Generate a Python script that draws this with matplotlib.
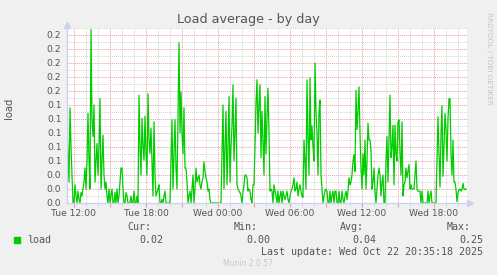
import matplotlib
matplotlib.use("Agg")
import matplotlib.pyplot as plt
import matplotlib.dates as mdates
import matplotlib.ticker as mticker
import pandas as pd

# 5-minute load samples, Tue 11:25 -> Wed 20:40 (one row = 100 minutes)
LOAD = [
    0.110, 0.070, 0.030, 0.136, 0.080, 0.040, 0.000, 0.000, 0.026, 0.010, 0.000, 0.017, 0.005, 0.000, 0.015, 0.010, 0.020, 0.030, 0.050, 0.020,
    0.060, 0.128, 0.060, 0.020, 0.248, 0.120, 0.095, 0.140, 0.030, 0.060, 0.085, 0.040, 0.080, 0.149, 0.020, 0.060, 0.097, 0.040, 0.020, 0.030,
    0.010, 0.000, 0.020, 0.000, 0.010, 0.020, 0.000, 0.000, 0.015, 0.000, 0.020, 0.000, 0.010, 0.030, 0.050, 0.050, 0.020, 0.000, 0.000, 0.015,
    0.010, 0.000, 0.000, 0.000, 0.010, 0.000, 0.000, 0.017, 0.000, 0.000, 0.010, 0.000, 0.154, 0.080, 0.040, 0.121, 0.080, 0.061, 0.124, 0.070,
    0.040, 0.156, 0.090, 0.071, 0.107, 0.060, 0.010, 0.116, 0.040, 0.010, 0.015, 0.020, 0.026, 0.000, 0.000, 0.005, 0.000, 0.010, 0.017, 0.000,
    0.000, 0.000, 0.000, 0.000, 0.060, 0.119, 0.020, 0.070, 0.119, 0.050, 0.020, 0.120, 0.229, 0.100, 0.159, 0.100, 0.070, 0.136, 0.050, 0.050,
    0.030, 0.000, 0.010, 0.017, 0.000, 0.020, 0.040, 0.000, 0.020, 0.050, 0.030, 0.035, 0.040, 0.026, 0.020, 0.030, 0.036, 0.059, 0.045, 0.036,
    0.030, 0.017, 0.020, 0.005, 0.000, 0.000, 0.000, 0.000, 0.000, 0.000, 0.000, 0.000, 0.000, 0.000, 0.000, 0.070, 0.140, 0.020, 0.080, 0.131,
    0.026, 0.080, 0.152, 0.030, 0.080, 0.110, 0.169, 0.060, 0.100, 0.150, 0.026, 0.020, 0.017, 0.015, 0.010, 0.000, 0.015, 0.026, 0.040, 0.040,
    0.036, 0.017, 0.020, 0.017, 0.005, 0.000, 0.026, 0.026, 0.080, 0.143, 0.176, 0.100, 0.140, 0.169, 0.065, 0.131, 0.090, 0.040, 0.152, 0.070,
    0.120, 0.164, 0.100, 0.017, 0.020, 0.017, 0.000, 0.026, 0.017, 0.010, 0.000, 0.017, 0.000, 0.010, 0.017, 0.000, 0.017, 0.010, 0.005, 0.010,
    0.017, 0.005, 0.000, 0.010, 0.017, 0.020, 0.026, 0.036, 0.017, 0.020, 0.030, 0.010, 0.020, 0.026, 0.017, 0.010, 0.008, 0.090, 0.060, 0.020,
    0.176, 0.090, 0.040, 0.179, 0.090, 0.110, 0.080, 0.060, 0.200, 0.130, 0.100, 0.040, 0.130, 0.147, 0.040, 0.020, 0.000, 0.010, 0.017, 0.020,
    0.017, 0.000, 0.000, 0.017, 0.000, 0.010, 0.017, 0.000, 0.017, 0.017, 0.000, 0.000, 0.017, 0.000, 0.000, 0.017, 0.005, 0.000, 0.010, 0.017,
    0.005, 0.017, 0.036, 0.026, 0.030, 0.040, 0.060, 0.069, 0.045, 0.161, 0.105, 0.130, 0.166, 0.100, 0.050, 0.020, 0.070, 0.040, 0.090, 0.020,
    0.060, 0.114, 0.090, 0.090, 0.075, 0.020, 0.030, 0.050, 0.017, 0.000, 0.020, 0.040, 0.050, 0.040, 0.010, 0.030, 0.040, 0.000, 0.000, 0.060,
    0.095, 0.030, 0.090, 0.154, 0.065, 0.080, 0.111, 0.026, 0.111, 0.070, 0.060, 0.116, 0.119, 0.070, 0.040, 0.116, 0.010, 0.026, 0.030, 0.050,
    0.036, 0.045, 0.055, 0.020, 0.026, 0.020, 0.020, 0.020, 0.040, 0.060, 0.020, 0.017, 0.017, 0.017, 0.000, 0.017, 0.000, 0.000, 0.000, 0.000,
    0.000, 0.017, 0.000, 0.010, 0.017, 0.000, 0.000, 0.000, 0.000, 0.000, 0.060, 0.123, 0.070, 0.023, 0.100, 0.139, 0.038, 0.080, 0.128, 0.104,
    0.060, 0.120, 0.149, 0.149, 0.070, 0.040, 0.090, 0.030, 0.030, 0.019, 0.002, 0.015, 0.019, 0.020, 0.017, 0.019, 0.028, 0.020, 0.019, 0.020,
]
START = "2025-10-21 11:25"
Y_TICKS = [i * 0.02 for i in range(13)]
STAT_NAMES = ["Cur:", "Min:", "Avg:", "Max:"]
STAT_VALUES = ["0.02", "0.00", "0.04", "0.25"]
LAST_UPDATE = "Last update: Wed Oct 22 20:35:18 2025"

W, H = 497, 275
BG = "#F0F0F0"
FONT_C = "#555555"
AXIS_C = "#C8D0F4"
MGRID = "#E8A0A0"
GRID = "#D4D4D4"
MONO = "DejaVu Sans Mono"


def fx(x):
    return x / W


def fy(y):
    return 1 - y / H


def main() -> None:
    times = pd.date_range(START, periods=len(LOAD), freq="5min")
    t_end = times[0] + pd.Timedelta(minutes=5 * len(LOAD))

    fig = plt.figure(figsize=(W / 100, H / 100), dpi=100, facecolor=BG)
    ax = fig.add_axes([fx(67), 1 - 203 / H, 400 / W, 175 / H])
    ax.set_facecolor("white")

    ax.plot(times, LOAD, color="#00CC00", lw=0.9)
    ax.set_xlim(times[0], t_end)
    ax.set_ylim(0, 0.25)

    # time axis: red grid every 3h, labels every 6h, grey every hour
    ax.xaxis.set_major_locator(mdates.HourLocator(byhour=range(0, 24, 3)))
    ax.xaxis.set_minor_locator(mdates.HourLocator())

    def xfmt(v, pos):
        d = mdates.num2date(v)
        return d.strftime("%a %H:%M") if d.hour % 6 == 0 else ""

    ax.xaxis.set_major_formatter(mticker.FuncFormatter(xfmt))
    ax.yaxis.set_major_locator(mticker.FixedLocator(Y_TICKS))
    ax.yaxis.set_minor_locator(mticker.MultipleLocator(0.01))
    ax.yaxis.set_major_formatter(mticker.FormatStrFormatter("%.1f"))

    ax.grid(which="minor", color=GRID, ls=(0, (1, 1)), lw=0.7)
    ax.grid(which="major", color=MGRID, ls=(0, (1, 1)), lw=0.7)
    ax.set_axisbelow(True)

    ax.tick_params(which="major", colors=MGRID, length=3, width=0.8,
                   labelcolor=FONT_C, labelsize=6.6, pad=1.5)
    ax.tick_params(which="minor", colors=GRID, length=2, width=0.6)
    ax.tick_params(axis="y", which="both", length=0, pad=4)

    for s in ("top", "right"):
        ax.spines[s].set_visible(False)
    for s in ("left", "bottom"):
        ax.spines[s].set_color(AXIS_C)
        ax.spines[s].set_linewidth(0.9)
    ax.plot([0], [1.02], marker="^", ms=4, color=AXIS_C, transform=ax.transAxes, clip_on=False)
    ax.plot([1.008], [0], marker=">", ms=4, color=AXIS_C, transform=ax.transAxes, clip_on=False)

    fig.text(fx(248), fy(19), "Load average - by day", ha="center", va="center",
             fontsize=9.2, color=FONT_C)
    fig.text(fx(9), fy(108), "load", rotation=90, ha="center", va="center",
             fontsize=7.2, color=FONT_C)
    fig.text(fx(489), fy(58), "RRDTOOL / TOBI OETIKER", rotation=270, ha="center",
             va="center", fontsize=5.2, color="#C4C4C4")

    # legend block
    fig.patches.append(plt.Rectangle((fx(14), fy(243)), 6 / W, 6 / H,
                                     transform=fig.transFigure, color="#00CC00"))
    fig.text(fx(27), fy(240), "load", family=MONO, fontsize=7.2, color=FONT_C, va="center")
    for i, (name, val) in enumerate(zip(STAT_NAMES, STAT_VALUES)):
        right = 151 + i * 106.5
        fig.text(fx(right), fy(227), name, family=MONO, fontsize=7.2, color=FONT_C,
                 ha="right", va="center")
        fig.text(fx(right + 12.5), fy(240), val, family=MONO, fontsize=7.2, color=FONT_C,
                 ha="right", va="center")
    fig.text(fx(483), fy(252), LAST_UPDATE, family=MONO, fontsize=7.2, color=FONT_C,
             ha="right", va="center")
    fig.text(fx(248), fy(264), "Munin 2.0.57", fontsize=5.5, color="#C8C8C8",
             ha="center", va="center")

    fig.savefig("out.png", dpi=100, facecolor=BG)


if __name__ == "__main__":
    main()
